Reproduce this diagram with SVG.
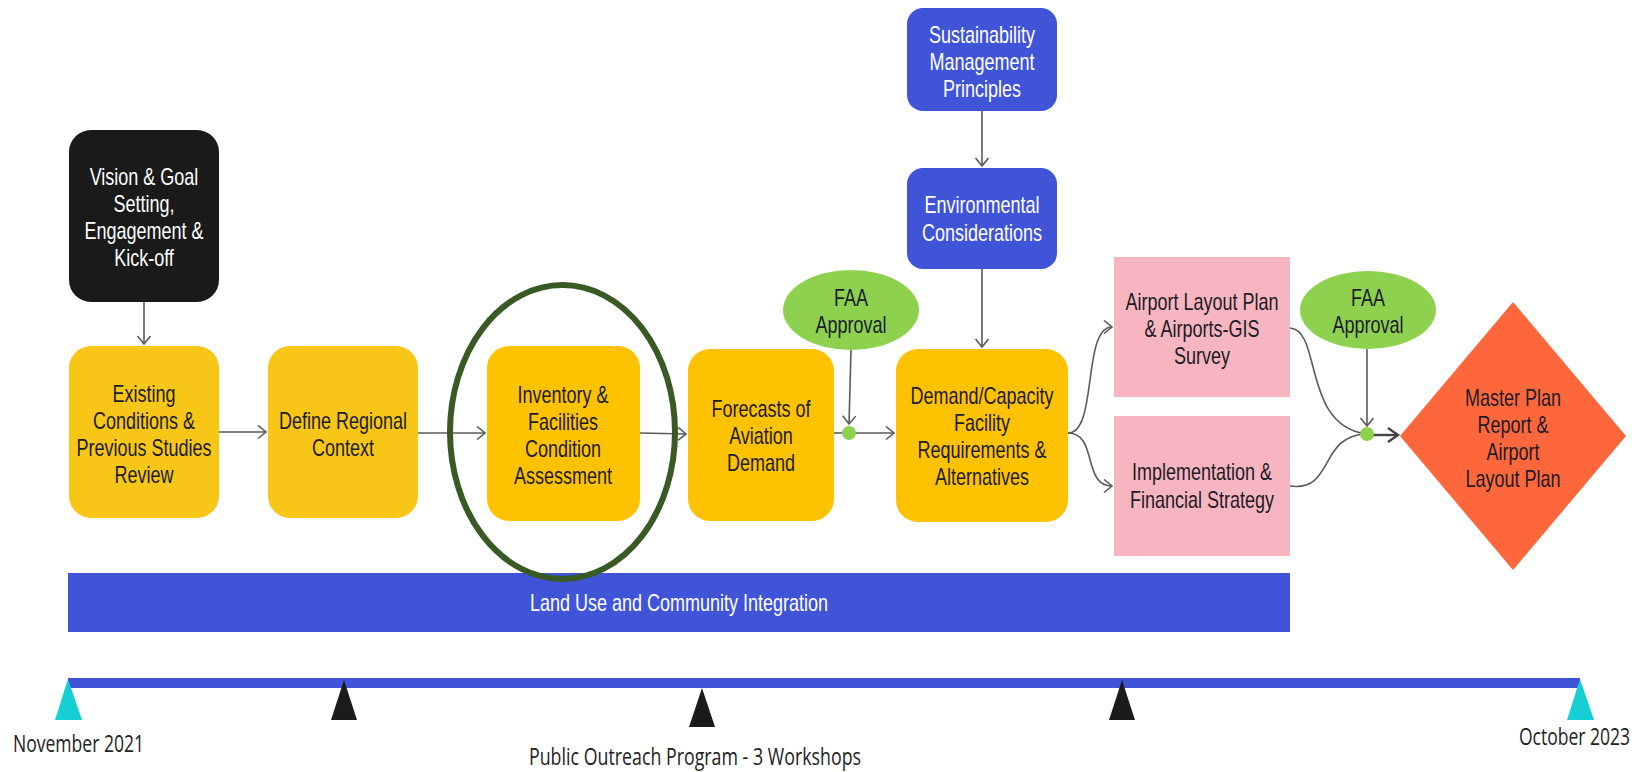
<svg xmlns="http://www.w3.org/2000/svg" width="1643" height="772" viewBox="0 0 1643 772">
<style>
.t{font-family:"Liberation Sans",Arial,sans-serif;font-size:24px;text-anchor:middle;fill:#1c1c28}
.w{fill:#ffffff}
.lbl{font-family:"Open Sans","Liberation Sans",sans-serif;font-size:24px;fill:#222}
.ln{fill:none;stroke:#5a5a5a;stroke-width:1.6}
.yA{fill:#F7C616}
.yB{fill:#FEC200}
.blue{fill:#3F54D7}
.pink{fill:#F7B5BF}
.grn{fill:#8ED14F}
</style>
<defs>
<marker id="arr" markerWidth="11" markerHeight="16" refX="9" refY="7" orient="auto" markerUnits="userSpaceOnUse">
<path d="M1,0.5 L9,7 L1,13.5" fill="none" stroke="#5a5a5a" stroke-width="1.6"/>
</marker>
<marker id="arrB" markerWidth="14" markerHeight="18" refX="11" refY="8" orient="auto" markerUnits="userSpaceOnUse">
<path d="M1,1 L11,8 L1,15" fill="none" stroke="#444" stroke-width="2.4"/>
</marker>
</defs>
<rect width="1643" height="772" fill="#ffffff"/>

<g id="land-use">
<rect x="68" y="573" width="1222" height="59" class="blue"/>
<g transform="translate(679 0) scale(0.75 1)"><text class="t w" x="0" y="611">Land Use and Community Integration</text></g>
</g>

<g id="timeline">
<rect x="68" y="678" width="1512" height="10" class="blue"/>
<polygon points="68,679 55,720 82,720" fill="#15CFD5"/>
<polygon points="1580,679 1567,720 1594,720" fill="#15CFD5"/>
<polygon points="344,680 331,720 357,720" fill="#1b1b1b"/>
<polygon points="702,688 689,727 715,727" fill="#1b1b1b"/>
<polygon points="1122,680 1109,720 1135,720" fill="#1b1b1b"/>
<text class="lbl" x="13" y="752" textLength="131" lengthAdjust="spacingAndGlyphs">November 2021</text>
<text class="lbl" x="529" y="765" textLength="332" lengthAdjust="spacingAndGlyphs">Public Outreach Program - 3 Workshops</text>
<g transform="translate(1630 0) scale(0.73 1)"><text class="lbl" x="0" y="745" text-anchor="end">October 2023</text></g>
</g>

<g id="connectors">
<path class="ln" d="M144,302 L144,344" marker-end="url(#arr)"/>
<path class="ln" d="M219,432 L266,432" marker-end="url(#arr)"/>
<path class="ln" d="M418,433 L485,433" marker-end="url(#arr)"/>
<path class="ln" d="M640,433 L686,434" marker-end="url(#arr)"/>
<path class="ln" d="M834,433 L849,433"/>
<path class="ln" d="M849,433 L894,433" marker-end="url(#arr)"/>
<path class="ln" d="M851,350 L849,424" marker-end="url(#arr)"/>
<path class="ln" d="M982,111 L982,166" marker-end="url(#arr)"/>
<path class="ln" d="M982,269 L982,347" marker-end="url(#arr)"/>
<path class="ln" d="M1068,433 C1098,433 1082,327 1112,327" marker-end="url(#arr)"/>
<path class="ln" d="M1068,433 C1098,433 1082,486 1112,486" marker-end="url(#arr)"/>
<path class="ln" d="M1290,328 C1322,330 1302,425 1366,434"/>
<path class="ln" d="M1290,486 C1335,492 1318,436 1366,434"/>
<path class="ln" d="M1367,349 L1367,426" marker-end="url(#arr)"/>
<path d="M1367,435 L1398,435" fill="none" stroke="#444" stroke-width="2.4" marker-end="url(#arrB)"/>
<circle cx="849" cy="433" r="7" class="grn"/>
<circle cx="1367" cy="434" r="7" class="grn"/>
</g>

<g id="vision">
<rect x="69" y="130" width="150" height="172" rx="22" fill="#1a1a1a"/>
<g transform="translate(144 0) scale(0.75 1)"><text class="t w"><tspan x="0" y="185">Vision &amp; Goal</tspan><tspan x="0" y="212">Setting,</tspan><tspan x="0" y="239">Engagement &amp;</tspan><tspan x="0" y="266">Kick-off</tspan></text></g>
</g>

<g id="existing">
<rect x="69" y="346" width="150" height="172" rx="22" class="yA"/>
<g transform="translate(144 0) scale(0.75 1)"><text class="t"><tspan x="0" y="402">Existing</tspan><tspan x="0" y="429">Conditions &amp;</tspan><tspan x="0" y="456">Previous Studies</tspan><tspan x="0" y="483">Review</tspan></text></g>
</g>

<g id="define">
<rect x="268" y="346" width="150" height="172" rx="22" class="yA"/>
<g transform="translate(343 0) scale(0.75 1)"><text class="t"><tspan x="0" y="429">Define Regional</tspan><tspan x="0" y="456">Context</tspan></text></g>
</g>

<g id="inventory">
<rect x="487" y="346" width="153" height="175" rx="22" class="yB"/>
<g transform="translate(563 0) scale(0.75 1)"><text class="t"><tspan x="0" y="403">Inventory &amp;</tspan><tspan x="0" y="430">Facilities</tspan><tspan x="0" y="457">Condition</tspan><tspan x="0" y="484">Assessment</tspan></text></g>
</g>

<g id="forecasts">
<rect x="688" y="349" width="146" height="172" rx="22" class="yB"/>
<g transform="translate(761 0) scale(0.75 1)"><text class="t"><tspan x="0" y="417">Forecasts of</tspan><tspan x="0" y="444">Aviation</tspan><tspan x="0" y="471">Demand</tspan></text></g>
</g>

<g id="faa1">
<ellipse cx="851" cy="310" rx="68" ry="40" class="grn"/>
<g transform="translate(851 0) scale(0.75 1)"><text class="t"><tspan x="0" y="306">FAA</tspan><tspan x="0" y="333">Approval</tspan></text></g>
</g>

<g id="sustainability">
<rect x="907" y="8" width="150" height="103" rx="16" class="blue"/>
<g transform="translate(982 0) scale(0.75 1)"><text class="t w"><tspan x="0" y="43">Sustainability</tspan><tspan x="0" y="70">Management</tspan><tspan x="0" y="97">Principles</tspan></text></g>
</g>

<g id="environmental">
<rect x="907" y="168" width="150" height="101" rx="16" class="blue"/>
<g transform="translate(982 0) scale(0.75 1)"><text class="t w"><tspan x="0" y="213">Environmental</tspan><tspan x="0" y="241">Considerations</tspan></text></g>
</g>

<g id="demand">
<rect x="896" y="349" width="172" height="173" rx="22" class="yB"/>
<g transform="translate(982 0) scale(0.75 1)"><text class="t"><tspan x="0" y="404">Demand/Capacity</tspan><tspan x="0" y="431">Facility</tspan><tspan x="0" y="458">Requirements &amp;</tspan><tspan x="0" y="485">Alternatives</tspan></text></g>
</g>

<g id="alp">
<rect x="1114" y="257" width="176" height="140" class="pink"/>
<g transform="translate(1202 0) scale(0.75 1)"><text class="t"><tspan x="0" y="310">Airport Layout Plan</tspan><tspan x="0" y="337">&amp; Airports-GIS</tspan><tspan x="0" y="364">Survey</tspan></text></g>
</g>

<g id="implementation">
<rect x="1114" y="416" width="176" height="140" class="pink"/>
<g transform="translate(1202 0) scale(0.75 1)"><text class="t"><tspan x="0" y="480">Implementation &amp;</tspan><tspan x="0" y="508">Financial Strategy</tspan></text></g>
</g>

<g id="faa2">
<ellipse cx="1368" cy="310" rx="68" ry="39" class="grn"/>
<g transform="translate(1368 0) scale(0.75 1)"><text class="t"><tspan x="0" y="306">FAA</tspan><tspan x="0" y="333">Approval</tspan></text></g>
</g>

<g id="master-plan">
<polygon points="1513,302 1626,436 1513,570 1400,436" fill="#FE673B"/>
<g transform="translate(1513 0) scale(0.75 1)"><text class="t"><tspan x="0" y="406">Master Plan</tspan><tspan x="0" y="433">Report &amp;</tspan><tspan x="0" y="460">Airport</tspan><tspan x="0" y="487">Layout Plan</tspan></text></g>
</g>

<g id="highlight">
<ellipse cx="562.5" cy="432" rx="112.5" ry="147" fill="none" stroke="#3A5A25" stroke-width="6"/>
</g>
</svg>
